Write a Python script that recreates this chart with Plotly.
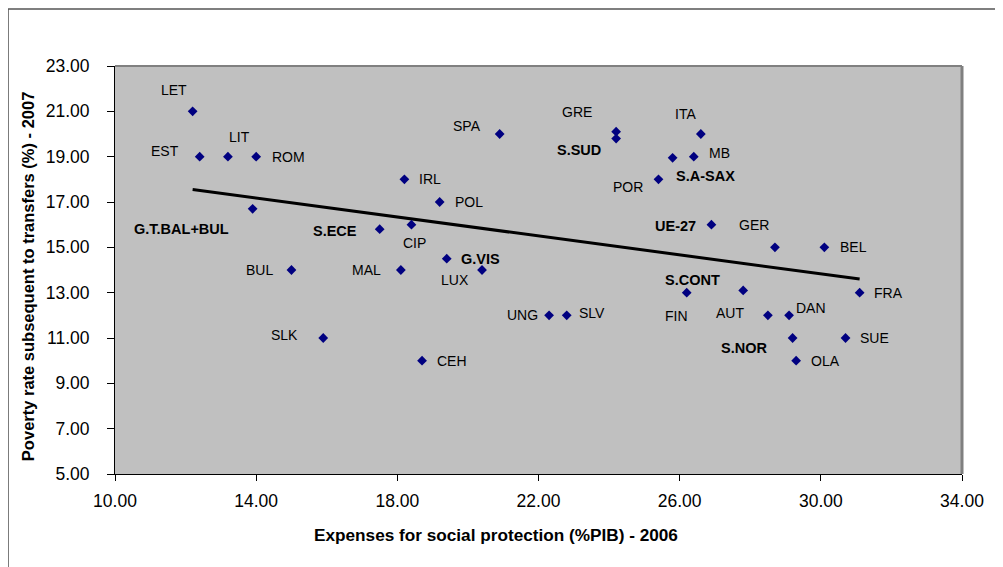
import numpy as np
import plotly.graph_objects as go

# ---- data ----
labels = ["LET", "EST", "LIT", "ROM", "IRL", "POL", "G.T.BAL+BUL", "S.ECE", "CIP",
          "BUL", "MAL", "SLK", "CEH", "G.VIS", "LUX", "UNG", "SLV", "FIN", "S.CONT",
          "GER", "BEL", "FRA", "AUT", "DAN", "S.NOR", "SUE", "OLA", "SPA", "GRE",
          "S.SUD", "ITA", "S.A-SAX", "MB", "POR", "UE-27"]
social_expenses = [12.2, 12.4, 13.2, 14.0, 18.2, 19.2, 13.9, 17.5, 18.4,
                   15.0, 18.1, 15.9, 18.7, 19.4, 20.4, 22.3, 22.8, 26.2, 27.8,
                   28.7, 30.1, 31.1, 28.5, 29.1, 29.2, 30.7, 29.3, 20.9, 24.2,
                   24.2, 26.6, 25.8, 26.4, 25.4, 26.9]
poverty_rate = [21.0, 19.0, 19.0, 19.0, 18.0, 17.0, 16.7, 15.8, 16.0,
                14.0, 14.0, 11.0, 10.0, 14.5, 14.0, 12.0, 12.0, 13.0, 13.1,
                15.0, 15.0, 13.0, 12.0, 12.0, 11.0, 11.0, 10.0, 20.0, 20.1,
                19.8, 20.0, 18.95, 19.0, 18.0, 16.0]
bold_labels = {"G.T.BAL+BUL", "S.ECE", "G.VIS", "S.SUD", "S.A-SAX", "UE-27", "S.CONT", "S.NOR"}

x_ticks = [10, 14, 18, 22, 26, 30, 34]
y_ticks = [5, 7, 9, 11, 13, 15, 17, 19, 21, 23]

# label offsets in pixels (dx right, dy down) – layout only
label_offsets = {
    "LET": (-19, -21), "EST": (-35, -6), "LIT": (12, -20), "ROM": (32, 0),
    "IRL": (26, 0), "POL": (29, 0), "G.T.BAL+BUL": (-71, 20), "S.ECE": (-45, 2),
    "CIP": (3, 18), "BUL": (-32, 0), "MAL": (-34, 0), "SLK": (-39, -3),
    "CEH": (30, 0), "G.VIS": (34, 0), "LUX": (-27, 10), "UNG": (-27, 0),
    "SLV": (25, -2), "FIN": (-10, 23), "S.CONT": (-51, -10), "GER": (-21, -22),
    "BEL": (29, 0), "FRA": (29, 0), "AUT": (-38, -2), "DAN": (22, -7),
    "S.NOR": (-49, 10), "SUE": (29, 0), "OLA": (29, 0), "SPA": (-33, -8),
    "GRE": (-39, -20), "S.SUD": (-37, 11), "ITA": (-15, -20), "S.A-SAX": (33, 18),
    "MB": (26, -4), "POR": (-30, 8), "UE-27": (-36, 1),
}

# ---- linear trend (least squares) ----
xs = np.array(social_expenses)
ys = np.array(poverty_rate)
slope, intercept = np.polyfit(xs, ys, 1)
trend_x = [xs.min(), xs.max()]
trend_y = [slope * v + intercept for v in trend_x]

FONT = "Liberation Sans, Arial, sans-serif"

fig = go.Figure()
fig.add_trace(go.Scatter(
    x=trend_x, y=trend_y, mode="lines",
    line=dict(color="black", width=3), hoverinfo="skip", showlegend=False))
fig.add_trace(go.Scatter(
    x=social_expenses, y=poverty_rate, mode="markers", text=labels,
    marker=dict(symbol="diamond", size=7.5, color="#000080", line=dict(width=0)),
    showlegend=False))

annotations = []
for lab, xv, yv in zip(labels, social_expenses, poverty_rate):
    dx, dy = label_offsets[lab]
    bold = lab in bold_labels
    txt = f"<b>{lab}</b>" if bold else lab
    annotations.append(dict(
        x=xv, y=yv, xref="x", yref="y", text=txt, showarrow=False,
        xanchor="center", yanchor="middle", xshift=dx, yshift=-dy,
        font=dict(family=FONT, size=14.5 if bold else 14, color="black")))

annotations.append(dict(
    x=0.45, y=-0.1495, xref="paper", yref="paper", showarrow=False,
    text="<b>Expenses for social protection (%PIB) - 2006</b>",
    xanchor="center", yanchor="middle",
    font=dict(family=FONT, size=17.2, color="black")))
annotations.append(dict(
    x=-0.1027, y=0.485, xref="paper", yref="paper", showarrow=False,
    text="<b>Poverty rate subsequent to transfers (%) - 2007</b>", textangle=-90,
    xanchor="center", yanchor="middle",
    font=dict(family=FONT, size=16.5, color="black")))

shapes = [
    # plot area border (top / right)
    dict(type="line", xref="paper", yref="paper", x0=0, x1=1, y0=1, y1=1,
         line=dict(color="#808080", width=2)),
    dict(type="line", xref="paper", yref="paper", x0=1, x1=1, y0=0, y1=1,
         line=dict(color="#808080", width=3)),
    # chart area outer border (top / left)
    dict(type="line", xref="paper", yref="paper", x0=-0.1263, x1=2, y0=1.1397, y1=1.1397,
         line=dict(color="#555555", width=1.5)),
    dict(type="line", xref="paper", yref="paper", x0=-0.1263, x1=-0.1263, y0=-1, y1=1.1397,
         line=dict(color="#555555", width=1.5)),
]

fig.update_layout(
    width=1003, height=567,
    margin=dict(l=107, r=49, t=58, b=101),
    paper_bgcolor="white", plot_bgcolor="#C0C0C0",
    annotations=annotations, shapes=shapes,
    font=dict(family=FONT, color="black"),
    xaxis=dict(range=[10, 34], tickvals=x_ticks, tickformat=".2f",
               showgrid=False, zeroline=False, showline=True, linecolor="black",
               linewidth=1, ticks="outside", ticklen=6, tickcolor="black",
               ticklabelstandoff=5,
               tickfont=dict(family=FONT, size=17.5, color="black")),
    yaxis=dict(range=[5, 23], tickvals=y_ticks, tickformat=".2f",
               showgrid=False, zeroline=False, showline=True, linecolor="black",
               linewidth=1, ticks="outside", ticklen=7, tickcolor="black",
               ticklabelstandoff=14,
               tickfont=dict(family=FONT, size=17.5, color="black")),
)

fig.write_html("out.html")
